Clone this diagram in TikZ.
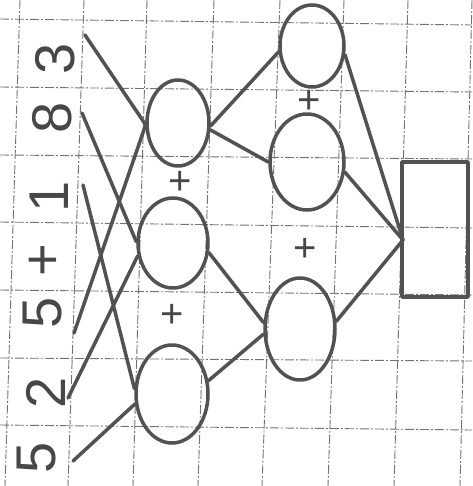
\documentclass[tikz,border=0pt]{standalone}
\usepackage{fontspec}
\setmainfont{Liberation Sans}
\usetikzlibrary{shapes.geometric}
\begin{document}
\begin{tikzpicture}[x=1pt,y=-1pt,
 ink/.style={draw=black!68, line width=3.5pt, line cap=round, line join=round},
 oval/.style={ink, ellipse, inner sep=0pt},
 gridline/.style={black!55, line width=0.9pt, dash pattern=on 9pt off 2pt on 2pt off 2pt},
 digit/.style={text=black!72, font=\fontsize{56}{56}\selectfont, rotate=90, inner sep=0pt},
 plus/.style={text=black!72, font=\fontsize{40}{40}\selectfont, inner sep=0pt}]
\useasboundingbox (0,0) rectangle (472,486);
\fill[white] (0,0) rectangle (472,486);
% grid
\draw[gridline] (20,0) -- (5,486);
\draw[gridline] (84,0) -- (68,486);
\draw[gridline] (147,0) -- (133,486);
\draw[gridline] (214,0) -- (198,486);
\draw[gridline] (280,0) -- (262,486);
\draw[gridline] (344,0) -- (328,486);
\draw[gridline] (408,0) -- (394,486);
\draw[gridline] (472,0) -- (460,486);
\draw[gridline] (0,19) -- (472,25);
\draw[gridline] (0,87) -- (472,92);
\draw[gridline] (0,155) -- (472,159);
\draw[gridline] (0,222) -- (472,228);
\draw[gridline] (0,290) -- (472,295);
\draw[gridline] (0,358) -- (472,361);
\draw[gridline] (0,425) -- (472,430);
% digits
\node[digit] (t3) at (55,59) {3};
\node[digit] (t8) at (52,118) {8};
\node[digit] (t1) at (49,197) {1};
\node[digit] (tp) at (45,260) {+};
\node[digit] (t5a) at (43,313) {5};
\node[digit] (t2) at (46,393) {2};
\node[digit] (t5b) at (37,458) {5};
% ovals
\node[oval, minimum width=62pt, minimum height=86pt] (c1) at (178,123) {};
\node[oval, minimum width=70pt, minimum height=90pt] (c2) at (173,243) {};
\node[oval, minimum width=72pt, minimum height=98pt] (c3) at (172,394) {};
\node[oval, minimum width=64pt, minimum height=82pt] (d1) at (312,46) {};
\node[oval, minimum width=74pt, minimum height=96pt] (d2) at (307,162) {};
\node[oval, minimum width=70pt, minimum height=102pt] (d3) at (300,329) {};
\node[ink, rectangle, minimum width=66pt, minimum height=135pt, inner sep=0pt] (box) at (435,229.5) {};
% plus signs
\node[plus] (p1) at (180,183) {+};
\node[plus] (p2) at (172,316) {+};
\node[plus] (p3) at (309,102) {+};
\node[plus] (p4) at (305,250) {+};
% free ends
\coordinate (s3) at (85,35);
\coordinate (s8) at (82,113);
\coordinate (s1) at (83,185);
\coordinate (s5a) at (74,333);
\coordinate (s2) at (68,398);
\coordinate (s5b) at (73,461);
\coordinate (J) at (403,240);
% connectors
\draw[ink] (s3) -- (c1.182);
\draw[ink] (c1.185) -- (s5a);
\draw[ink] (s8) -- (c2.178);
\draw[ink] (s2) -- (c2.200);
\draw[ink] (s1) -- (c3.172);
\draw[ink] (s5b) -- (c3.195);
\draw[ink] (c1.-5) -- (d1.190);
\draw[ink] (c1.-12) -- (d2.180);
\draw[ink] (c2.-15) -- (d3.170);
\draw[ink] (c3.20) -- (d3.188);
\draw[ink] (d1.-15) -- (J);
\draw[ink] (d2.-15) -- (J);
\draw[ink] (d3.12) -- (J);
\end{tikzpicture}
\end{document}
